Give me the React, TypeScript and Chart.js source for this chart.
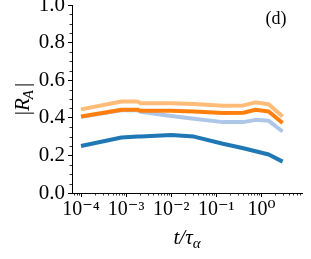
import React, { useEffect, useRef } from "react";
import { Chart, registerables } from "chart.js";

Chart.register(...registerables);

// t / tau_alpha sample times
const times = [1e-4, 7.9e-4, 1.8e-3, 2.1e-3, 1e-2, 3.2e-2, 0.14, 0.4, 0.74, 1.45, 2.95];
const darkBlue = [0.25, 0.295, 0.3, 0.3, 0.308, 0.3, 0.262, 0.238, 0.222, 0.205, 0.167];
const lightBlue = [0.405, 0.44, 0.44, 0.432, 0.41, 0.395, 0.377, 0.377, 0.389, 0.384, 0.327];
const orange = [0.407, 0.443, 0.443, 0.437, 0.437, 0.433, 0.425, 0.427, 0.443, 0.434, 0.372];
const lightOrange = [0.445, 0.487, 0.487, 0.478, 0.478, 0.474, 0.464, 0.466, 0.482, 0.472, 0.407];

const xMajorTicks = [1e-4, 1e-3, 1e-2, 1e-1, 1];
const xTickLabels = ["10⁻⁴", "10⁻³", "10⁻²", "10⁻¹", "10⁰"];
const yTickStep = 0.2;
const yMinorStep = 0.05;

const SERIF = "'Liberation Serif', 'DejaVu Serif', serif";

const minorTicksAndTitles = {
  id: "minorTicksAndTitles",
  afterDraw(chart: any) {
    const { ctx, chartArea } = chart;
    const xs = chart.scales.x;
    const ys = chart.scales.y;
    ctx.save();
    ctx.strokeStyle = "#000";
    ctx.lineWidth = 0.8;
    // x minor ticks
    for (let k = -5; k <= 1; k++) {
      for (let m = 2; m <= 9; m++) {
        const v = m * Math.pow(10, k);
        if (v < xs.min || v > xs.max) continue;
        const px = Math.round(xs.getPixelForValue(v)) + 0.5;
        ctx.beginPath();
        ctx.moveTo(px, chartArea.bottom);
        ctx.lineTo(px, chartArea.bottom + 2.5);
        ctx.stroke();
      }
    }
    // y minor ticks
    for (let i = 0; i <= 20; i++) {
      const v = i * yMinorStep;
      if (i % 4 === 0) continue;
      const py = Math.round(ys.getPixelForValue(v)) + 0.5;
      ctx.beginPath();
      ctx.moveTo(chartArea.left - 2.5, py);
      ctx.lineTo(chartArea.left, py);
      ctx.stroke();
    }
    ctx.fillStyle = "#000";
    // x title: t/τ_α
    const cx = (chartArea.left + chartArea.right) / 2;
    const by = chartArea.bottom + 51;
    const main = "t/τ";
    ctx.font = `italic 21px ${SERIF}`;
    const wMain = ctx.measureText(main).width;
    ctx.font = `italic 15px ${SERIF}`;
    const wSub = ctx.measureText("α").width;
    const startX = cx - (wMain + wSub) / 2;
    ctx.textBaseline = "alphabetic";
    ctx.textAlign = "left";
    ctx.font = `italic 21px ${SERIF}`;
    ctx.fillText(main, startX, by);
    ctx.font = `italic 15px ${SERIF}`;
    ctx.fillText("α", startX + wMain, by + 4);
    // y title: |R_A|
    ctx.save();
    const cy = (chartArea.top + chartArea.bottom) / 2;
    ctx.translate(29, cy);
    ctx.rotate(-Math.PI / 2);
    ctx.font = `21px ${SERIF}`;
    const wBar = ctx.measureText("|").width;
    ctx.font = `italic 21px ${SERIF}`;
    const wR = ctx.measureText("R").width;
    ctx.font = `italic 15px ${SERIF}`;
    const wA = ctx.measureText("A").width;
    const total = wBar * 2 + wR + wA + 2;
    let x0 = -total / 2;
    ctx.font = `21px ${SERIF}`;
    ctx.fillText("|", x0, 0);
    x0 += wBar;
    ctx.font = `italic 21px ${SERIF}`;
    ctx.fillText("R", x0, 0);
    x0 += wR;
    ctx.font = `italic 15px ${SERIF}`;
    ctx.fillText("A", x0 - 1, 4);
    x0 += wA + 2;
    ctx.font = `21px ${SERIF}`;
    ctx.fillText("|", x0, 0);
    ctx.restore();
    // panel label
    ctx.font = `18px ${SERIF}`;
    ctx.textAlign = "center";
    ctx.textBaseline = "middle";
    ctx.fillText("(d)", 276, 19);
    ctx.restore();
  },
};

export default function App() {
  const ref = useRef<HTMLCanvasElement | null>(null);
  useEffect(() => {
    document.body.style.margin = "0";
    const mk = (vals: number[]) => times.map((t, i) => ({ x: t, y: vals[i] }));
    const common = { pointRadius: 0, borderWidth: 4, fill: false, tension: 0, borderJoinStyle: "round" as const, borderCapStyle: "butt" as const };
    const chart = new Chart(ref.current as HTMLCanvasElement, {
      type: "line",
      data: {
        datasets: [
          { ...common, label: "orange", data: mk(orange), borderColor: "#ff7f0e" },
          { ...common, label: "light orange", data: mk(lightOrange), borderColor: "#ffbb78" },
          { ...common, label: "light blue", data: mk(lightBlue), borderColor: "#aec7e8" },
          { ...common, label: "dark blue", data: mk(darkBlue), borderColor: "#1f77b4" },
        ],
      },
      options: {
        animation: false,
        responsive: true,
        maintainAspectRatio: false,
        layout: { padding: { top: 5, right: 9, left: 0, bottom: 0 } },
        plugins: { legend: { display: false }, tooltip: { enabled: false } },
        scales: {
          x: {
            type: "logarithmic",
            min: Math.pow(10, -4.2),
            max: Math.pow(10, 0.9),
            afterBuildTicks: (scale: any) => {
              scale.ticks = xMajorTicks.map((v) => ({ value: v, major: true }));
            },
            afterFit: (scale: any) => {
              scale.height = 66;
              scale.paddingLeft = 0;
              scale.paddingRight = 0;
            },
            ticks: {
              autoSkip: false,
              maxRotation: 0,
              minRotation: 0,
              padding: 1,
              color: "#000",
              font: { family: SERIF, size: 20 },
              callback: (v: any) => {
                const i = xMajorTicks.findIndex((m) => Math.abs(m - Number(v)) / m < 1e-6);
                return i >= 0 ? xTickLabels[i] : "";
              },
            },
            grid: { display: true, drawOnChartArea: false, drawTicks: true, tickLength: 4, color: "#000", tickWidth: 1 },
            border: { display: true, color: "#000", width: 1 },
          },
          y: {
            type: "linear",
            min: 0,
            max: 1,
            afterFit: (scale: any) => {
              scale.width = 72;
              scale.paddingTop = 0;
              scale.paddingBottom = 0;
            },
            ticks: {
              stepSize: yTickStep,
              padding: 3,
              color: "#000",
              font: { family: SERIF, size: 21 },
              callback: (v: any) => Number(v).toFixed(1),
            },
            grid: { display: true, drawOnChartArea: false, drawTicks: true, tickLength: 4, color: "#000", tickWidth: 1 },
            border: { display: true, color: "#000", width: 1 },
          },
        },
      },
      plugins: [minorTicksAndTitles],
    });
    return () => chart.destroy();
  }, []);
  return (
    <div style={{ position: "absolute", left: 0, top: 0, width: 311, height: 259 }}>
      <canvas ref={ref} />
    </div>
  );
}
